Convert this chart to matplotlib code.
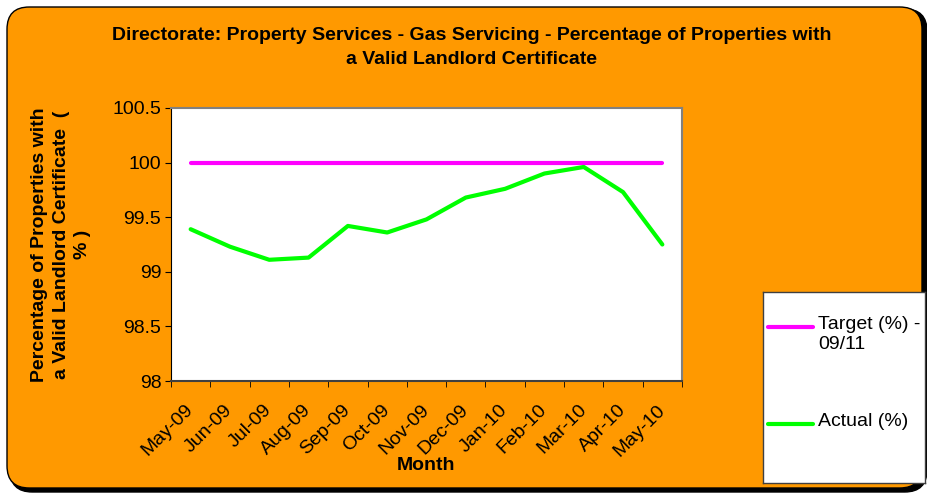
import numpy as np
import matplotlib.pyplot as plt
import matplotlib.transforms as mtransforms
from matplotlib.patches import FancyBboxPatch

months = ["May-09", "Jun-09", "Jul-09", "Aug-09", "Sep-09", "Oct-09", "Nov-09",
          "Dec-09", "Jan-10", "Feb-10", "Mar-10", "Apr-10", "May-10"]
target = [100, 100, 100, 100, 100, 100, 100, 100, 100, 100, 100, 100, 100]
actual = [99.39, 99.23, 99.11, 99.13, 99.42, 99.36, 99.48, 99.68, 99.76,
          99.90, 99.96, 99.73, 99.25]

ORANGE = "#FF9900"
MAGENTA = "#FF00FF"
GREEN = "#00FF00"
W, H = 928, 495
FS = 14

plt.rcParams['font.family'] = ['Liberation Sans', 'DejaVu Sans']

fig = plt.figure(figsize=(W / 100, H / 100), dpi=100)
fig.patch.set_facecolor("white")

# rounded orange background with a dark shadow edge
shadow = FancyBboxPatch((10 / W, 3 / H), 917 / W, 483 / H,
                        boxstyle="round,pad=0,rounding_size=0.024",
                        transform=fig.transFigure, facecolor="black",
                        edgecolor="black", mutation_aspect=W / H, zorder=-2)
bg = FancyBboxPatch((7 / W, 7 / H), 915 / W, 481 / H,
                    boxstyle="round,pad=0,rounding_size=0.024",
                    transform=fig.transFigure, facecolor=ORANGE,
                    edgecolor="black", linewidth=1, mutation_aspect=W / H, zorder=-1)
fig.patches.extend([shadow, bg])

ax = fig.add_axes([171 / W, 1 - 381 / H, 511 / W, 273 / H])
ax.set_facecolor("white")
x = np.arange(len(months))
ax.plot(x, target, color=MAGENTA, lw=3, solid_capstyle="round")
ax.plot(x, actual, color=GREEN, lw=3, solid_capstyle="round")

ax.set_xlim(-0.5, len(months) - 0.5)
ax.set_ylim(98, 100.5)
ax.set_yticks([98, 98.5, 99, 99.5, 100, 100.5])
ax.set_yticklabels(["98", "98.5", "99", "99.5", "100", "100.5"], fontsize=FS)
ax.set_xticks(x)
ax.set_xticklabels(months, rotation=45, ha="right", va="center",
                   rotation_mode="anchor", fontsize=FS)
shift = mtransforms.ScaledTranslation(-5 / 100, 0, fig.dpi_scale_trans)
for lbl in ax.get_xticklabels():
    lbl.set_transform(lbl.get_transform() + shift)
ax.tick_params(axis="x", length=0, pad=19)
ax.set_xticks(np.arange(-0.5, len(months)), minor=True)
ax.tick_params(axis="x", which="minor", direction="out", length=4)
ax.tick_params(axis="y", length=4, direction="out", pad=3)
for side in ["top", "right"]:
    ax.spines[side].set_color("#808080")
    ax.spines[side].set_linewidth(1.5)
ax.spines["left"].set_color("black")
ax.spines["bottom"].set_color("#404040")
ax.spines["bottom"].set_linewidth(1.5)

ax.set_xlabel("Month", fontsize=FS, fontweight="bold")
ax.xaxis.set_label_coords(0.5, -(465 - 381) / 273)
ax.xaxis.label.set_va("center")
ax.set_ylabel("Percentage of Properties with\na Valid Landlord Certificate  (\n% )",
              fontsize=FS, fontweight="bold", linespacing=1.35)
ax.yaxis.set_label_coords(-(171 - 61) / 511, 0.5)
ax.yaxis.label.set_va("center")

fig.text(472 / W, 1 - 35 / H,
         "Directorate: Property Services - Gas Servicing - Percentage of Properties with",
         ha="center", va="center", fontsize=FS, fontweight="bold")
fig.text(472 / W, 1 - 60 / H, "a Valid Landlord Certificate",
         ha="center", va="center", fontsize=FS, fontweight="bold")

# legend box, entries placed like the original (handle level with first text line)
lax = fig.add_axes([763 / W, 1 - 483 / H, 162 / W, 191 / H])
lax.set_facecolor("white")
lax.set_xlim(763, 925)
lax.set_ylim(483, 292)
lax.set_xticks([])
lax.set_yticks([])
for s in lax.spines.values():
    s.set_color("#404040")
    s.set_linewidth(1)
entries = [("Target (%) -\n09/11", MAGENTA, 327), ("Actual (%)", GREEN, 424)]
for text, color, yy in entries:
    lax.plot([768, 813], [yy, yy], color=color, lw=3, solid_capstyle="round")
    lax.text(818, yy - 11, text, fontsize=FS, va="top", ha="left", linespacing=1.25)

fig.savefig("out.png", dpi=100, facecolor=fig.get_facecolor())
